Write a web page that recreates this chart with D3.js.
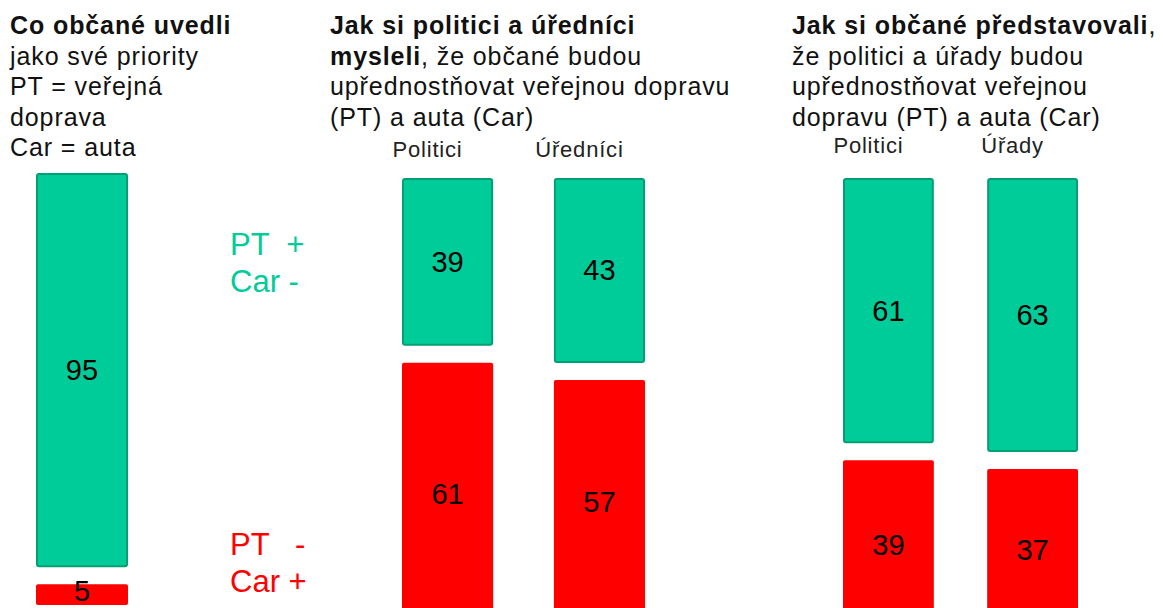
<!DOCTYPE html>
<html>
<head>
<meta charset="utf-8">
<script src="https://cdn.jsdelivr.net/npm/d3@7"></script>
<style>
  body { margin: 0; background: #fff; }
  svg text { font-family: "Liberation Sans", Arial, sans-serif; }
</style>
</head>
<body>
<svg id="chart" width="1163" height="608"></svg>
<script>
// data
const groupKeys = ["g1", "g2", "g3"];
const barKeys = ["obcane", "politici", "urednici", "politici2", "urady"];
const barGroup = ["g1", "g2", "g2", "g3", "g3"];
const barNames = ["", "Politici", "Úředníci", "Politici", "Úřady"];
const ptPlus = [95, 39, 43, 61, 63];   // PT + / Car -
const ptMinus = [5, 61, 57, 39, 37];   // PT - / Car +

// titles: lines made of [text, bold]
const titles = [
  [[["Co občané uvedli", true]], [["jako své priority", false]], [["PT = veřejná", false]], [["doprava", false]], [["Car = auta", false]]],
  [[["Jak si politici a úředníci", true]], [["mysleli", true], [", že občané budou", false]], [["upřednostňovat veřejnou dopravu", false]], [["(PT) a auta (Car)", false]]],
  [[["Jak si občané představovali", true], [",", false]], [["že politici a úřady budou", false]], [["upřednostňovat veřejnou", false]], [["dopravu (PT) a auta (Car)", false]]]
];
const legendPlus = ["PT  +", "Car -"];
const legendMinus = ["PT   -", "Car +"];

// layout
const GREEN = "#00CC99", GREEN_LINE = "#00A074", RED = "#FF0000";
const layout = {
  g1: { titleX: 10, x0: 36, x1: 128, pad: 0, top: 173, full: 415, nameY: 0 },
  g2: { titleX: 330, x0: 402, x1: 645, pad: 0.4, top: 178, full: 430, nameY: 157 },
  g3: { titleX: 792, x0: 843, x1: 1078, pad: 0.37, top: 178, full: 435, nameY: 153 }
};
const gap = 17;
const H = 608;

const svg = d3.select("#chart");

// per-group scales
const xScales = {}, yScales = {};
groupKeys.forEach(g => {
  const keys = barKeys.filter((k, i) => barGroup[i] === g);
  xScales[g] = d3.scaleBand().domain(keys).range([layout[g].x0, layout[g].x1])
    .paddingInner(layout[g].pad).paddingOuter(0);
  yScales[g] = d3.scaleLinear().domain([0, 100]).range([0, layout[g].full]);
});

const bars = barKeys.map((k, i) => {
  const g = barGroup[i];
  const x = xScales[g](k), w = xScales[g].bandwidth();
  const top = layout[g].top;
  const hp = yScales[g](ptPlus[i]);
  const hm = yScales[g](ptMinus[i]);
  return { k, g, x, w, top, hp, hm, plus: ptPlus[i], minus: ptMinus[i], name: barNames[i] };
});

// titles
groupKeys.forEach((g, gi) => {
  const t = svg.append("text")
    .attr("x", layout[g].titleX)
    .attr("y", 34)
    .attr("font-size", 25)
    .attr("letter-spacing", 0.9)
    .attr("fill", "#111");
  titles[gi].forEach((line, li) => {
    line.forEach((part, pi) => {
      const ts = t.append("tspan")
        .attr("font-weight", part[1] ? "bold" : "normal")
        .text(part[0]);
      if (pi === 0) ts.attr("x", layout[g].titleX).attr("dy", li === 0 ? 0 : 30.5);
    });
  });
});

// green segments
svg.selectAll("rect.plus")
  .data(bars)
  .enter().append("rect")
  .attr("class", "plus")
  .attr("x", d => d.x + 1)
  .attr("y", d => d.top + 1)
  .attr("width", d => d.w - 2)
  .attr("height", d => d.hp - 2)
  .attr("rx", 2)
  .attr("fill", GREEN)
  .attr("stroke", GREEN_LINE)
  .attr("stroke-width", 2);

// red segments
svg.selectAll("rect.minus")
  .data(bars)
  .enter().append("rect")
  .attr("class", "minus")
  .attr("x", d => d.x)
  .attr("y", d => d.top + d.hp + gap)
  .attr("width", d => d.w)
  .attr("height", d => d.hm)
  .attr("rx", 2)
  .attr("fill", RED);

// value labels
svg.selectAll("text.vplus")
  .data(bars)
  .enter().append("text")
  .attr("class", "vplus")
  .attr("x", d => d.x + d.w / 2)
  .attr("y", d => d.top + d.hp / 2 + 10)
  .attr("text-anchor", "middle")
  .attr("font-size", 29)
  .attr("fill", "#000")
  .text(d => d.plus);

// keep the small "5" inside the visible area
svg.selectAll("text.vminus")
  .data(bars)
  .enter().append("text")
  .attr("class", "vminus")
  .attr("x", d => d.x + d.w / 2)
  .attr("y", d => Math.min(d.top + d.hp + gap + d.hm / 2 + 10, H - 7))
  .attr("text-anchor", "middle")
  .attr("font-size", 29)
  .attr("fill", "#000")
  .text(d => d.minus);

// bar names
svg.selectAll("text.bname")
  .data(bars.filter(d => d.name))
  .enter().append("text")
  .attr("class", "bname")
  .attr("x", d => d.x + d.w / 2 - 20)
  .attr("y", d => layout[d.g].nameY)
  .attr("text-anchor", "middle")
  .attr("font-size", 22)
  .attr("letter-spacing", 0.8)
  .attr("fill", "#222")
  .text(d => d.name);

// side legend
function legend(lines, y0, color) {
  lines.forEach((s, i) => {
    svg.append("text")
      .attr("x", 230)
      .attr("y", y0 + i * 37)
      .attr("font-size", 31)
      .attr("fill", color)
      .style("white-space", "pre")
      .text(s);
  });
}
legend(legendPlus, 255, GREEN);
legend(legendMinus, 555, RED);
</script>
</body>
</html>
